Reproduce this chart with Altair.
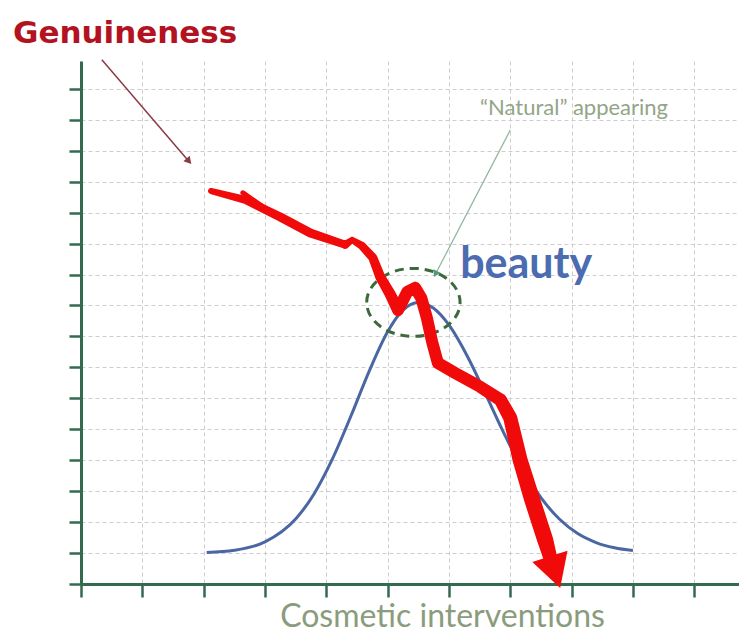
import altair as alt
import pandas as pd

# ---------------- data ----------------
# blue "beauty" bell curve
blue_x = [2.05, 2.5, 3.0, 3.5, 3.8, 4.1, 4.4, 4.7, 5.0, 5.25, 5.5, 5.75, 6.0,
          6.3, 6.6, 6.9, 7.2, 7.5, 7.8, 8.1, 8.4, 8.7, 9.0]
blue_y = [1.02, 1.09, 1.36, 2.10, 2.91, 4.04, 5.42, 6.88, 8.15, 8.85, 9.10, 8.91,
          8.37, 7.36, 6.13, 4.86, 3.71, 2.79, 2.10, 1.63, 1.34, 1.17, 1.08]

# red "genuineness" hand-drawn line (main stroke)
red_x = [2.12, 2.68, 3.25, 3.74, 4.31, 4.42, 4.58, 4.76, 4.88, 5.04, 5.17, 5.32,
         5.45, 5.55, 5.64, 5.73, 5.82, 6.10, 6.51, 6.84, 7.00, 7.16, 7.36, 7.57, 7.65]
red_y = [12.70, 12.41, 11.86, 11.34, 10.96, 11.12, 10.93, 10.54, 9.92, 9.37, 8.85,
         9.44, 9.57, 9.24, 8.60, 7.79, 7.14, 6.82, 6.37, 5.95, 5.37, 4.01, 2.71, 1.42, 0.87]
# small second stroke at the start of the red line
red2_x = [2.64, 2.95]
red2_y = [12.64, 12.19]
# red arrow head position
red_head_x = [7.73]
red_head_y = [0.38]

# annotations
ellipse_x = [5.42]
ellipse_y = [9.10]
genuine_arrow = {"x": [0.34], "y": [16.94], "x2": [1.74], "y2": [13.70]}
genuine_head = {"x": [1.76], "y": [13.66]}
natural_arrow = {"x": [7.00], "y": [14.67], "x2": [5.79], "y2": [10.05]}
natural_head = {"x": [5.78], "y": [10.02]}

labels_text = ["Genuineness", "\u201cNatural\u201d appearing", "beauty"]
labels_x = [-1.11, 8.04, 7.26]
labels_y = [17.48, 15.16, 9.89]

x_ticks = list(range(0, 11))
y_ticks = list(range(0, 17))

# ---------------- styles ----------------
red_stroke_px = [6, 8, 9, 9, 8, 6, 8, 9, 10, 11, 12, 12, 12, 12, 12, 12, 12, 12,
                 12, 13, 14, 15, 16, 16, 14]
red2_stroke_px = [5, 6]

RED = "#f10a0a"
BLUE = "#4a67a3"
AX = "#336b4f"
GRID = "#cdcdcd"

W, H = 658, 523
XMAX, YMAX = 10.73, 16.9

xs = alt.Scale(domain=[0, XMAX], nice=False, zero=False)
ys = alt.Scale(domain=[0, YMAX], nice=False, zero=False)

xaxis = alt.Axis(values=x_ticks, labels=False, tickSize=13, tickWidth=2.5, tickColor=AX,
                 domainColor=AX, domainWidth=3, grid=True, gridColor=GRID,
                 gridDash=[4, 3], gridWidth=1, title="Cosmetic interventions",
                 titleFont="Lato", titleFontSize=32, titleFontWeight="normal",
                 titleColor="#8a9c7c", titleX=361, titleY=42, titleAlign="center",
                 titleBaseline="alphabetic")
yaxis = alt.Axis(values=y_ticks, labels=False, tickSize=12, tickWidth=2.5, tickColor=AX,
                 domainColor=AX, domainWidth=3, grid=True, gridColor=GRID,
                 gridDash=[4, 3], gridWidth=1, title=None)


def X(f="x"):
    return alt.X(f"{f}:Q", scale=xs, axis=xaxis)


def Y(f="y"):
    return alt.Y(f"{f}:Q", scale=ys, axis=yaxis)


blue_df = pd.DataFrame({"x": blue_x, "y": blue_y})
red_df = pd.DataFrame({
    "x": red_x + red2_x,
    "y": red_y + red2_y,
    "w": red_stroke_px + red2_stroke_px,
    "i": list(range(len(red_x))) + list(range(len(red2_x))),
    "seg": ["a"] * len(red_x) + ["b"] * len(red2_x),
})

blue = alt.Chart(blue_df).mark_line(color=BLUE, strokeWidth=3, interpolate="monotone").encode(
    x=X(), y=Y())

ellipse = alt.Chart(pd.DataFrame({"x": ellipse_x, "y": ellipse_y})).mark_point(
    shape="M -1 0 A 1 0.728 0 1 1 1 0 A 1 0.728 0 1 1 -1 0 Z",
    size=8720, filled=False, color="#3d6a3a", strokeWidth=3, strokeDash=[9, 6], opacity=1
).encode(x=X(), y=Y())

red = alt.Chart(red_df).mark_trail(color=RED).encode(
    x=X(), y=Y(), size=alt.Size("w:Q", scale=None, legend=None),
    order=alt.Order("i:Q"), detail="seg:N")

red_head = alt.Chart(pd.DataFrame({"x": red_head_x, "y": red_head_y})).mark_point(
    shape="M -1 -0.9 L 1 -0.9 L 0 0.9 Z", size=1369, filled=True, color=RED,
    opacity=1, angle=342).encode(x=X(), y=Y())

g_arrow = alt.Chart(pd.DataFrame(genuine_arrow)).mark_rule(color="#8b3b45", strokeWidth=1.5).encode(
    x=X(), y=Y(), x2="x2:Q", y2="y2:Q")
g_head = alt.Chart(pd.DataFrame(genuine_head)).mark_point(
    shape="triangle-down", size=70, filled=True, color="#8b3b45", opacity=1, angle=319
).encode(x=X(), y=Y())

n_arrow = alt.Chart(pd.DataFrame(natural_arrow)).mark_rule(color="#93b8a0", strokeWidth=1.3).encode(
    x=X(), y=Y(), x2="x2:Q", y2="y2:Q")
n_head = alt.Chart(pd.DataFrame(natural_head)).mark_point(
    shape="triangle-down", size=60, filled=True, color="#4d9a7e", opacity=1, angle=27
).encode(x=X(), y=Y())

lab = pd.DataFrame({"t": labels_text, "x": labels_x, "y": labels_y})

genuine = alt.Chart(lab.iloc[[0]]).mark_text(
    font="DejaVu Sans", fontSize=31, fontWeight="bold", color="#b3121f",
    align="left", baseline="alphabetic").encode(x=X(), y=Y(), text="t:N")
natural = alt.Chart(lab.iloc[[1]]).mark_text(
    font="Lato", fontSize=22, color="#92a587", align="center",
    baseline="alphabetic").encode(x=X(), y=Y(), text="t:N")
beauty = alt.Chart(lab.iloc[[2]]).mark_text(
    font="Lato", fontSize=43, fontWeight="bold", color="#4b6cb0", align="center",
    baseline="alphabetic").encode(x=X(), y=Y(), text="t:N")

chart = alt.layer(
    blue, ellipse, red, red_head, g_arrow, g_head, n_arrow, n_head,
    genuine, natural, beauty
).properties(
    width=W, height=H,
    autosize=alt.AutoSizeParams(type="none"),
    padding={"left": 73, "top": 53, "right": 0, "bottom": 52},
    background="white",
).configure_view(stroke=None)

chart.save("out.html", embed_options={"renderer": "svg", "actions": False})
